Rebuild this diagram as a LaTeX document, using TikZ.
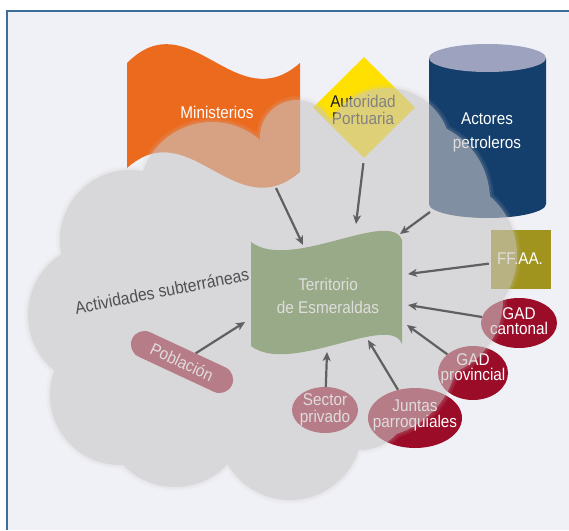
\documentclass[tikz,border=0pt]{standalone}
\usepackage{fontspec}
\setmainfont[FakeStretch=0.9]{Liberation Sans}
\usetikzlibrary{arrows.meta,shapes.geometric}
\definecolor{bgc}{HTML}{F0F1F6}
\definecolor{framec}{HTML}{3D6E99}
\definecolor{orangec}{HTML}{EC6A1E}
\definecolor{yellowc}{HTML}{FFE000}
\definecolor{navyc}{HTML}{143E6B}
\definecolor{capc}{HTML}{9DA2BF}
\definecolor{olivec}{HTML}{A0941F}
\definecolor{greenc}{HTML}{52802B}
\definecolor{crimc}{HTML}{9B0C28}
\definecolor{cloudc}{HTML}{CAC7C7}
\definecolor{arrc}{HTML}{606060}
\definecolor{labc}{HTML}{505054}
\newcommand\fsz[2]{\fontsize{#1pt}{#2pt}\selectfont}
\newcommand\cloudpath[1]{%
  (270,300) ellipse [x radius={(190+#1)*1pt}, y radius={(150+#1)*1pt}]
  \foreach \qx/\qy/\qr in {130/240/70,100/315/72,120/395/70,175/415/72,290/428/72,360/400/50,370/350/88,425/300/78,440/255/77,410/200/80,387/152/64,345/188/70,297/137/37,212/195/73}{ (\qx,\qy) circle [radius={(\qr+#1)*1pt}] }%
}
\begin{document}
\begin{tikzpicture}[x=1pt,y=-1pt,
  lbl/.style={align=center, inner sep=0pt, text=white},
  redov/.style={ellipse, fill=crimc, inner sep=0pt},
  arr/.style={draw=arrc, line width=2.2pt, -{Stealth[length=9pt,width=8pt,inset=2.5pt]}}]
\useasboundingbox (0,0) rectangle (569,530);
\fill[white] (0,0) rectangle (569,530);
\fill[bgc] (7,11) rectangle (569,530);
\draw[framec, line width=1.3pt] (7,530) -- (7,11) -- (569,11);

% Ministerios
\fill[orangec] (127,63) .. controls (190,0) and (235,120) .. (300,63) -- (300,172) .. controls (235,228) and (190,112) .. (127,168) -- cycle;
\node[lbl, font=\fsz{17}{20}] (mini) at (217,112) {Ministerios};
\coordinate (miniB) at (276,188);

% Autoridad Portuaria
\node[diamond, fill=yellowc, inner sep=0pt, minimum width=102pt, minimum height=101pt] (auto) at (364,107.5) {};
\node[lbl, text=black!90, font=\fsz{17}{17}] (autoT) at (363,110) {Autoridad\\Portuaria};

% Actores petroleros
\fill[navyc] (429,58) -- (429,204) arc[start angle=180, end angle=360, x radius=58.5pt, y radius=14pt] -- (546,58) -- cycle;
\fill[capc] (487.5,58) ellipse [x radius=58.5pt, y radius=14pt];
\node[lbl, font=\fsz{17}{24}] (act) at (487,132) {Actores\\petroleros};
\coordinate (actB) at (430,212);

% FF.AA.
\node[rectangle, fill=olivec, minimum width=60pt, minimum height=59pt, inner sep=0pt] (ffaa) at (521,259.5) {};
\node[lbl, font=\fsz{17}{17}] (ffaaT) at (520,259) {FF.AA.};

% Territorio
\fill[greenc] (251,242) .. controls (290,272) and (390,208) .. (402,240) -- (402,344) .. controls (390,312) and (290,376) .. (251,346) -- cycle;
\node[lbl, font=\fsz{17}{23}] (terr) at (328,295.5) {Territorio\\de Esmeraldas};
\coordinate (tMin) at (303,245);
\coordinate (tAut) at (356,224);
\coordinate (tAct) at (400,234);
\coordinate (tFF) at (408,274);
\coordinate (tGc) at (408,305);
\coordinate (tGp) at (407,325);
\coordinate (tJu) at (368,340);
\coordinate (tSe) at (327,352);
\coordinate (tPo) at (245,322);

% Poblacion
\node[rectangle, rounded corners=13.5pt, fill=crimc, minimum width=110pt, minimum height=27pt, inner sep=0pt, rotate=-25] (pobl) at (182,362) {};
\node[lbl, font=\fsz{17}{17}, rotate=-25] (poblT) at (182,362) {Población};

% ovals
\node[redov, minimum width=66pt, minimum height=46pt] (sector) at (325,410) {};
\node[lbl, font=\fsz{17}{17}] (sectorT) at (325,410) {Sector\\privado};
\node[redov, minimum width=94pt, minimum height=60pt] (juntas) at (415,418) {};
\node[lbl, font=\fsz{17}{16}] (juntasT) at (415,415.5) {Juntas\\parroquiales};
\node[redov, minimum width=70pt, minimum height=54pt] (gadp) at (473,373) {};
\node[lbl, font=\fsz{17}{15}] (gadpT) at (473,369) {GAD\\provincial};
\node[redov, minimum width=76pt, minimum height=50pt] (gadc) at (519,323) {};
\node[lbl, font=\fsz{17}{15}] (gadcT) at (519,321.5) {GAD\\cantonal};

% cloud
\fill[cloudc, fill opacity=0.10] \cloudpath{4};
\fill[cloudc, fill opacity=0.12] \cloudpath{2};
\fill[cloudc, fill opacity=0.495] \cloudpath{0};

\node[text=labc, font=\fsz{17.5}{18}, rotate=11, inner sep=0pt] (activ) at (162,291) {Actividades subterráneas};

% arrows
\draw[arr] (miniB) -- (tMin);
\draw[arr, shorten <=5pt] (auto.south) -- (tAut);
\draw[arr] (actB) -- (tAct);
\draw[arr, shorten <=2pt] (ffaa) -- (tFF);
\draw[arr] (gadc) -- (tGc);
\draw[arr] (gadp) -- (tGp);
\draw[arr] (juntas) -- (tJu);
\draw[arr] (sector) -- (tSe);
\draw[arr] (pobl) -- (tPo);
\end{tikzpicture}
\end{document}
